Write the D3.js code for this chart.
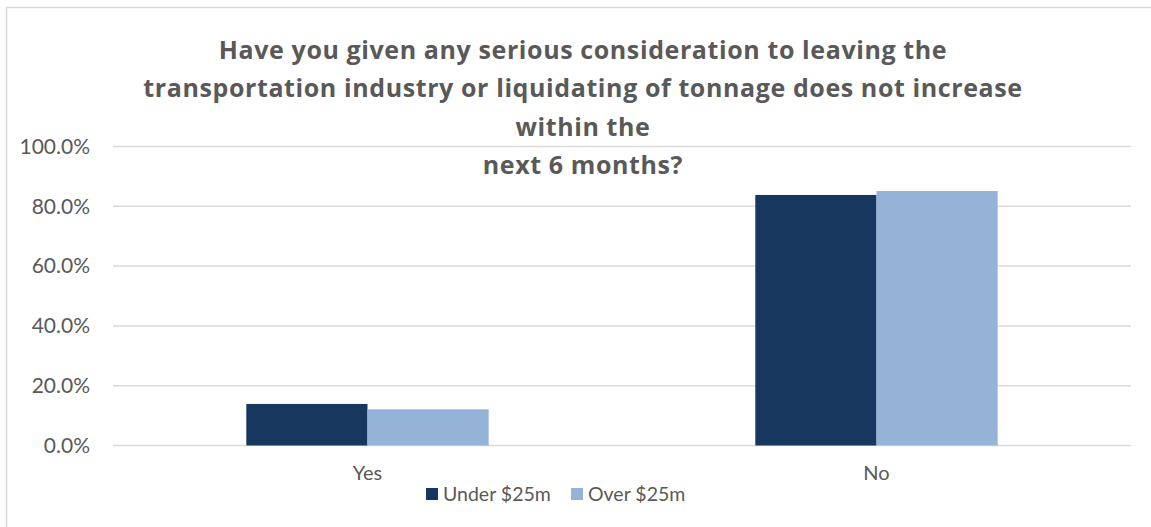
<!DOCTYPE html>
<html>
<head>
<meta charset="utf-8">
<script src="https://cdn.jsdelivr.net/npm/d3@7/dist/d3.min.js"></script>
<style>
  html, body { margin: 0; padding: 0; background: #ffffff; }
  svg { display: block; font-family: "Lato", "Liberation Sans", sans-serif; }
</style>
</head>
<body>
<svg id="chart" width="1151" height="527"></svg>
<script>
// Survey answers by company size
const categories = ["Yes", "No"];
const seriesNames = ["Under $25m", "Over $25m"];
const underValues = [0.139, 0.838];
const overValues = [0.121, 0.851];
const yTicks = [0, 0.2, 0.4, 0.6, 0.8, 1.0];
const titleLines = [
  "Have you given any serious consideration to leaving the",
  "transportation industry or liquidating of tonnage does not increase",
  "within the",
  "next 6 months?"
];
const seriesColors = ["#17375E", "#95B3D7"];

const svg = d3.select("#chart");

// Chart frame
svg.append("rect")
  .attr("x", 6.5).attr("y", 7.5)
  .attr("width", 1160).attr("height", 540)
  .attr("fill", "#ffffff")
  .attr("stroke", "#d9d9d9").attr("stroke-width", 1.5);

const plot = { left: 113, right: 1131, top: 146.5, bottom: 445.5 };

const x = d3.scaleBand()
  .domain(categories)
  .range([plot.left, plot.right])
  .paddingInner(1.1 / 2.1)
  .paddingOuter(1.1 / 4.2);

const xs = d3.scaleBand()
  .domain(seriesNames)
  .range([0, x.bandwidth()]);

const y = d3.scaleLinear().domain([0, 1]).range([plot.bottom, plot.top]);

// Gridlines
svg.append("g")
  .selectAll("line")
  .data(yTicks)
  .join("line")
  .attr("x1", plot.left).attr("x2", plot.right)
  .attr("y1", d => y(d)).attr("y2", d => y(d))
  .attr("stroke", "#d9d9d9").attr("stroke-width", 1.5);

// Y axis labels
const yAxis = d3.axisLeft(y)
  .tickValues(yTicks)
  .tickFormat(d3.format(".1%"))
  .tickSize(0)
  .tickPadding(0);
const yg = svg.append("g")
  .attr("transform", `translate(90,0)`)
  .call(yAxis);
yg.select(".domain").remove();
yg.selectAll("text")
  .attr("fill", "#595959")
  .attr("font-size", 21)
  .attr("font-family", "Lato, 'Liberation Sans', sans-serif");

// Bars
const rows = categories.map((c, i) => ({
  category: c,
  values: [
    { series: seriesNames[0], value: underValues[i] },
    { series: seriesNames[1], value: overValues[i] }
  ]
}));
const color = d3.scaleOrdinal().domain(seriesNames).range(seriesColors);

svg.append("g")
  .selectAll("g")
  .data(rows)
  .join("g")
  .attr("transform", d => `translate(${x(d.category)},0)`)
  .selectAll("rect")
  .data(d => d.values)
  .join("rect")
  .attr("x", d => xs(d.series))
  .attr("width", xs.bandwidth())
  .attr("y", d => y(d.value))
  .attr("height", d => y(0) - y(d.value))
  .attr("fill", d => color(d.series));

// X axis labels
const xAxis = d3.axisBottom(x).tickSize(0).tickPadding(0);
const xg = svg.append("g")
  .attr("transform", `translate(0,466)`)
  .call(xAxis);
xg.select(".domain").remove();
xg.selectAll("text")
  .attr("fill", "#595959")
  .attr("font-size", 20)
  .attr("font-family", "Lato, 'Liberation Sans', sans-serif");

// Title
svg.append("text")
  .attr("text-anchor", "middle")
  .attr("fill", "#595959")
  .attr("font-weight", "bold")
  .attr("font-size", 25)
  .attr("letter-spacing", 0.6)
  .attr("font-family", "'Open Sans', 'Liberation Sans', sans-serif")
  .selectAll("tspan")
  .data(titleLines)
  .join("tspan")
  .attr("x", 583)
  .attr("y", (d, i) => 59 + i * 38.3)
  .text(d => d);

// Legend
const legendItems = [
  { name: seriesNames[0], x: 426 },
  { name: seriesNames[1], x: 571 }
];
const lg = svg.append("g")
  .selectAll("g")
  .data(legendItems)
  .join("g")
  .attr("transform", d => `translate(${d.x},488)`);
lg.append("rect")
  .attr("width", 12).attr("height", 12)
  .attr("fill", d => color(d.name));
lg.append("text")
  .attr("x", 17).attr("y", 6)
  .attr("dy", "0.35em")
  .attr("fill", "#595959")
  .attr("font-size", 19.5)
  .text(d => d.name);
</script>
</body>
</html>
